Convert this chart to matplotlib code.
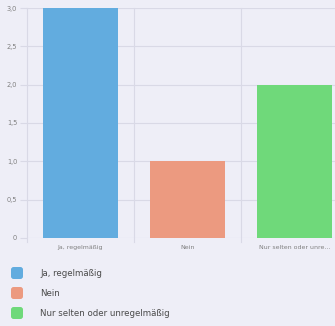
import matplotlib

matplotlib.use("Agg")
import matplotlib.pyplot as plt
from matplotlib.patches import FancyBboxPatch

categories = ["Ja, regelmäßig", "Nein", "Nur selten oder unregelmäßig"]
tick_labels = ["Ja, regelmäßig", "Nein", "Nur selten oder unre..."]
values = [3, 1, 2]
colors = ["#62acdf", "#ec9a80", "#6fd97a"]
y_ticks = [0, 0.5, 1.0, 1.5, 2.0, 2.5, 3.0]
y_tick_labels = ["0", "0,5", "1,0", "1,5", "2,0", "2,5", "3,0"]

BG = "#eeeef7"
GRID = "#d9d9e6"
TEXT = "#808080"

W, H = 335, 326
fig = plt.figure(figsize=(W / 100, H / 100), dpi=100, facecolor=BG)
ax = fig.add_axes([27 / W, 88 / H, (W - 27) / W, 230 / H], facecolor=BG)

x = list(range(len(values)))
ax.bar(x, values, width=0.71, color=colors, zorder=3)

ax.set_xlim(-0.5, -0.5 + (W - 27) / 107)
ax.set_ylim(0, 3)
ax.set_yticks(y_ticks)
ax.set_yticklabels(y_tick_labels, fontsize=4.8, color=TEXT)
ax.set_xticks(x)
ax.set_xticklabels(tick_labels, fontsize=4.5, color=TEXT)
ax.tick_params(axis="y", length=5, color=GRID, pad=2)
ax.tick_params(axis="x", length=0, pad=5)

for yv in y_ticks:
    ax.axhline(yv, color=GRID, lw=0.8, zorder=1)
for xb in [-0.5, 0.5, 1.5]:
    ax.plot([xb, xb], [-0.05, 3], color=GRID, lw=0.8, zorder=1, clip_on=False)

for s in ax.spines.values():
    s.set_visible(False)

# legend
rows = [273, 293, 313]
for label, c, yr in zip(categories, colors, rows):
    box = FancyBboxPatch((11 / W, (H - yr - 6) / H), 12 / W, 12 / H,
                         boxstyle="round,pad=0,rounding_size=0.008",
                         transform=fig.transFigure, facecolor=c, edgecolor="none")
    fig.patches.append(box)
    fig.text(40 / W, (H - yr) / H, label, fontsize=6.2, color="#4a4a4a", va="center")

fig.savefig("out.png", dpi=100, facecolor=BG)
